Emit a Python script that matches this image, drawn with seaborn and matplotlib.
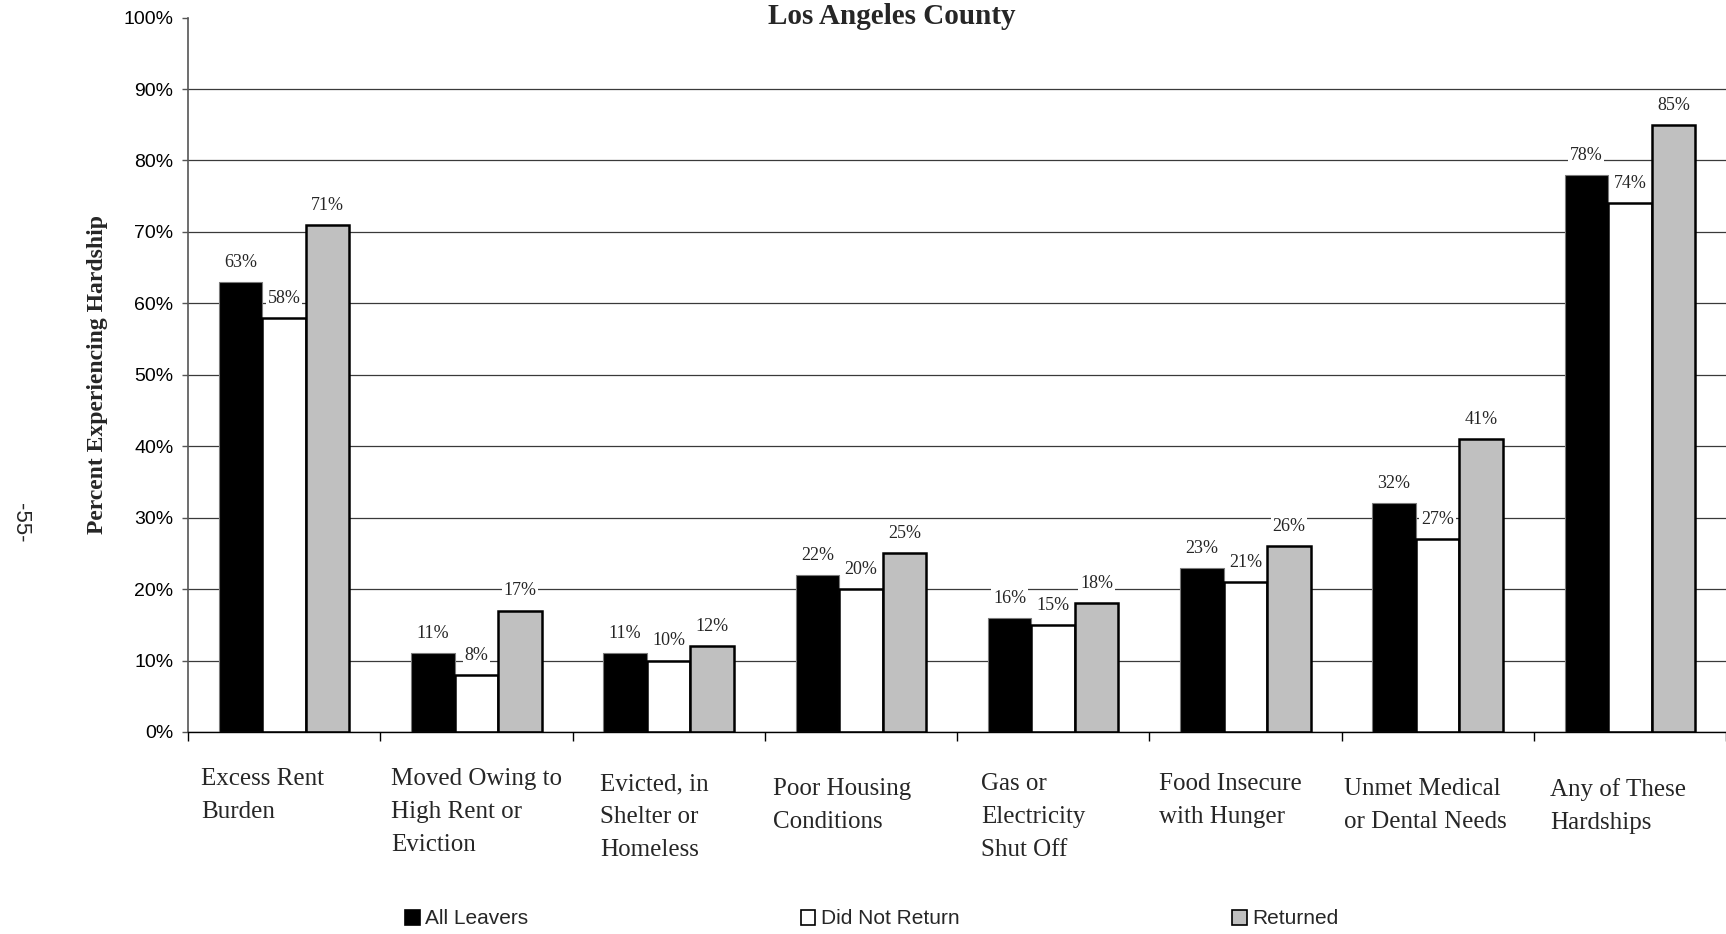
import numpy as np
import pandas as pd
import matplotlib
matplotlib.use("Agg")
import matplotlib.pyplot as plt
import seaborn as sns
from matplotlib.patches import Patch
from matplotlib.ticker import FuncFormatter

# ---- data -------------------------------------------------------------
categories = [
    "Excess Rent\nBurden",
    "Moved Owing to\nHigh Rent or\nEviction",
    "Evicted, in\nShelter or\nHomeless",
    "Poor Housing\nConditions",
    "Gas or\nElectricity\nShut Off",
    "Food Insecure\nwith Hunger",
    "Unmet Medical\nor Dental Needs",
    "Any of These\nHardships",
]
groups = ["All Leavers", "Did Not Return", "Returned"]
all_leavers = [63, 11, 11, 22, 16, 23, 32, 78]
did_not_return = [58, 8, 10, 20, 15, 21, 27, 74]
returned = [71, 17, 12, 25, 18, 26, 41, 85]
y_ticks = [0, 10, 20, 30, 40, 50, 60, 70, 80, 90, 100]
title = "Los Angeles County"
y_label = "Percent Experiencing Hardship"
page_number = "-55-"

# ---- styling ----------------------------------------------------------
group_colors = ["#000000", "#ffffff", "#c0c0c0"]
SERIF = ["Liberation Serif", "DejaVu Serif"]
# category label placement (pixels from group centre / below the axis)
label_dx_px = [-82.7, -85.5, -68.6, -87.9, -72.1, -86.0, -93.2, -79.6]
label_dy_px = [36, 36, 41, 46, 41, 41, 46, 46]

sns.set_theme(style="white")
plt.rcParams["font.family"] = ["Liberation Sans", "DejaVu Sans"]

series = [all_leavers, did_not_return, returned]
df = pd.DataFrame({
    "category": [c for _ in groups for c in categories],
    "group": [g for g in groups for _ in categories],
    "value": [v for s in series for v in s],
})

W, H = 1726, 934
fig = plt.figure(figsize=(W / 100, H / 100), dpi=100)
ax = fig.add_axes([188 / W, (H - 732) / H, 1 - 188 / W, (732 - 17.6) / H])

sns.barplot(
    data=df, x="category", y="value", hue="group",
    order=categories, hue_order=groups, palette=group_colors,
    width=0.68, gap=0, saturation=1, edgecolor="black", linewidth=1.8,
    legend=False, ax=ax,
)
# black bars get a thin grey outline
for bar in ax.containers[0]:
    bar.set_edgecolor("#7a7a7a")
    bar.set_linewidth(0.8)

ax.set_xlim(-0.5, len(categories) - 0.5)
ax.set_ylim(0, 100)
ax.set_xlabel("")

# x axis: ticks on the group boundaries, labels drawn separately
ax.set_xticks(np.arange(-0.5, len(categories), 1.0))
ax.set_xticklabels([])
ax.tick_params(axis="x", bottom=True, length=6.5, width=1.0, color="black",
               direction="out")

# y axis
ax.set_yticks(y_ticks)
ax.yaxis.set_major_formatter(FuncFormatter(lambda v, p: f"{v:.0f}%"))
ax.tick_params(axis="y", left=True, length=4.5, width=1.0, color="#555555",
               direction="out", labelsize=14, pad=6, labelcolor="black")

ax.yaxis.grid(True, color="#3a3a3a", linewidth=0.9)
ax.xaxis.grid(False)
ax.set_axisbelow(True)
ax.yaxis.get_gridlines()[-1].set_visible(False)

for side in ("top", "right"):
    ax.spines[side].set_visible(False)
ax.spines["left"].set_color("#555555")
ax.spines["left"].set_linewidth(1.2)
ax.spines["bottom"].set_color("black")
ax.spines["bottom"].set_linewidth(1.0)

ax.set_ylabel(y_label, fontsize=17, fontweight="bold", family=SERIF)
ax.yaxis.set_label_coords(-0.052, 0.5)

# value labels on white patches
for cont, vals in zip(ax.containers, series):
    ax.bar_label(
        cont, labels=[f"{v}%" for v in vals], padding=8, fontsize=13,
        family=SERIF,
        bbox=dict(boxstyle="square,pad=0.1", fc="white", ec="none"),
    )

# category labels below the axis
for i, (cat, dx, dy) in enumerate(zip(categories, label_dx_px, label_dy_px)):
    ax.annotate(
        cat, xy=(i, 0), xycoords="data",
        xytext=(dx * 0.72, -dy * 0.72), textcoords="offset points",
        ha="left", va="top", fontsize=18, family=SERIF, linespacing=1.66,
        annotation_clip=False,
    )

fig.text(892 / W, 1 - 16 / H, title, ha="center", va="center",
         fontsize=21, fontweight="bold", family=SERIF)
fig.text(20 / W, 1 - 523 / H, page_number, ha="center", va="center",
         rotation=270, fontsize=16)

handles = [Patch(facecolor=c, edgecolor="black", linewidth=1.2)
           for c in group_colors]
fig.legend(
    handles, groups, loc="center", bbox_to_anchor=(0.505, 1 - 919 / H),
    ncol=3, frameon=False, fontsize=15, handlelength=0.7, handleheight=0.7,
    handletextpad=0.25, columnspacing=13.1, borderpad=0,
)

fig.savefig("out.png", dpi=100)
